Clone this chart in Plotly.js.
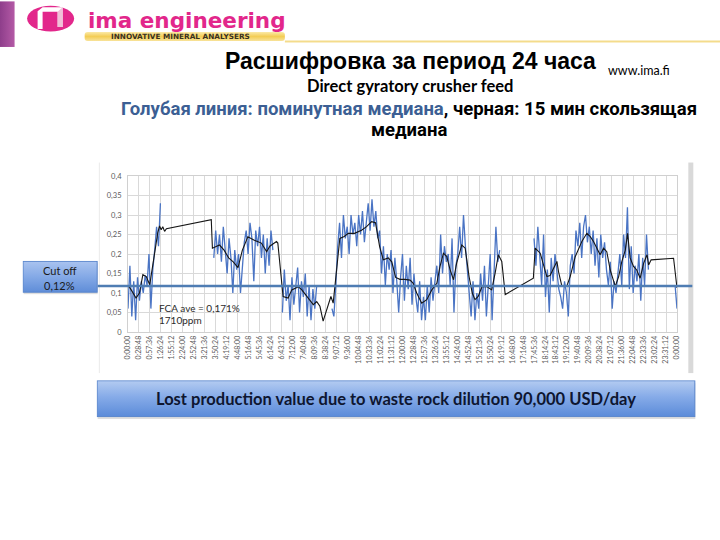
<!DOCTYPE html>
<html><head><meta charset="utf-8">
<script src="https://cdn.plot.ly/plotly-3.0.1.min.js"></script>
<style>html,body{margin:0;padding:0;background:#fff}#c{width:720px;height:540px}</style>
</head><body><div id="c"></div>
<script>
// ---- data ----
const timeLabels = ["0:00:00","0:28:48","0:57:36","1:26:24","1:55:12","2:24:00","2:52:48","3:21:36","3:50:24","4:19:12","4:48:00","5:16:48","5:45:36","6:14:24","6:43:12","7:12:00","7:40:48","8:09:36","8:38:24","9:07:12","9:36:00","10:04:48","10:33:36","11:02:24","11:31:12","12:00:00","12:28:48","12:57:36","13:26:24","13:55:12","14:24:00","14:52:48","15:21:36","15:50:24","16:19:12","16:48:00","17:16:48","17:45:36","18:14:24","18:43:12","19:12:00","19:40:48","20:09:36","20:38:24","21:07:12","21:36:00","22:04:48","22:33:36","23:02:24","23:31:12","0:00:00"];
const yTickVals = [0,0.05,0.1,0.15,0.2,0.25,0.3,0.35,0.4];
const yTickText = ["0","0,05","0,1","0,15","0,2","0,25","0,3","0,35","0,4"];
const cutOff = 0.118;
// minute median, one value every 5 minutes (hours 0..23, then 24:00)
const blueMedian = [
 0.06,0.17,0.04,0.13,0.03,0.14,0.08,0.13,0.10,0.145,0.12,0.20,
 0.06,0.16,0.21,0.27,0.22,0.33,null,null,null,null,null,null,
 null,null,null,null,null,null,null,null,null,null,null,null,
 null,null,null,null,null,null,null,null,null,0.19,0.26,0.20,
 0.25,0.18,0.27,0.21,0.15,0.24,0.19,0.10,0.21,0.16,0.20,0.10,
 0.18,0.23,0.26,0.20,0.28,0.24,0.13,0.26,0.22,0.27,0.19,0.25,
 0.15,0.24,0.17,0.26,0.21,null,null,null,null,0.05,0.16,0.08,
 0.12,0.03,0.14,0.07,0.11,0.165,0.05,0.13,0.09,0.15,0.04,0.12,
 0.03,0.11,0.06,0.12,null,null,null,null,null,null,null,0.06,
 0.04,0.12,0.22,0.28,0.19,0.30,0.24,0.27,0.20,0.30,0.25,0.28,
 0.22,0.30,0.25,0.31,0.23,0.28,0.33,0.26,0.34,0.27,0.31,0.24,
 0.26,0.15,0.22,0.12,0.20,0.16,0.21,0.10,0.19,0.13,0.05,0.14,
 0.20,0.08,0.17,0.11,0.19,0.07,0.15,0.09,0.05,0.13,0.03,0.09,
 0.03,0.12,0.05,0.14,0.08,0.13,0.17,0.10,0.25,0.15,0.22,0.18,
 0.20,0.12,0.24,0.05,0.17,0.20,0.27,0.19,0.30,0.22,0.17,0.10,
 0.04,0.13,0.03,0.10,0.06,0.15,0.08,0.17,0.04,0.13,0.20,0.03,
 0.15,0.27,0.18,0.21,null,null,null,null,null,null,null,null,
 null,null,null,null,null,null,null,null,null,0.24,0.17,0.27,
 0.20,0.12,0.25,0.09,0.16,0.05,0.19,0.13,0.20,0.16,0.11,0.09,
 0.06,0.13,0.10,0.04,0.17,0.20,0.15,0.26,0.22,0.28,0.19,0.27,
 0.30,0.23,0.27,0.20,0.26,0.17,0.24,0.14,0.25,0.19,0.23,0.16,
 0.12,0.18,0.06,0.13,0.10,0.15,0.20,0.12,0.25,0.19,0.32,0.11,
 0.22,0.10,0.17,0.13,0.20,0.08,0.19,0.12,0.25,0.16,null,null,
 null,null,null,null,null,null,null,null,null,null,null,0.12,
 0.06];
const blueStepMin = 5;
// 15 min moving median: time (hours) and value
const blackHours = [0,0.12,0.35,0.5,0.65,0.8,0.95,1.05,1.2,1.3,1.38,1.45,1.52,1.6,1.68,3.64,3.69,3.85,4.0,4.2,4.4,4.6,4.81,5.0,5.24,5.5,5.83,6.06,6.2,6.49,6.55,6.78,7.0,7.16,7.45,7.6,7.95,8.1,8.25,8.39,8.53,8.87,8.97,9.12,9.26,9.45,9.63,9.9,10.21,10.43,10.65,10.82,11.0,11.16,11.38,11.53,11.7,11.89,12.1,12.33,12.47,12.62,12.84,13.06,13.28,13.5,13.64,13.79,13.93,14.08,14.23,14.37,14.59,14.74,14.91,15.05,15.17,15.31,15.47,15.7,15.9,16.05,16.19,16.34,16.49,17.72,17.8,18.02,18.31,18.45,18.6,18.75,18.82,18.97,19.18,19.33,19.55,19.84,20.06,20.2,20.35,20.5,20.64,20.79,20.93,21.08,21.3,21.45,21.59,21.74,21.84,21.95,22.1,22.24,22.39,22.54,22.69,22.76,22.87,23.85,24.0];
const blackMedian = [0.12,0.11,0.087,0.1,0.147,0.142,0.121,0.16,0.21,0.254,0.272,0.262,0.27,0.258,0.265,0.288,0.215,0.22,0.223,0.21,0.19,0.18,0.165,0.21,0.244,0.236,0.228,0.206,0.22,0.232,0.228,0.091,0.087,0.108,0.116,0.108,0.083,0.07,0.078,0.066,0.028,0.091,0.074,0.168,0.24,0.245,0.253,0.253,0.261,0.27,0.283,0.28,0.219,0.185,0.19,0.18,0.14,0.135,0.135,0.133,0.125,0.1,0.074,0.083,0.108,0.125,0.168,0.202,0.194,0.16,0.134,0.177,0.223,0.215,0.142,0.1,0.083,0.091,0.116,0.116,0.108,0.151,0.198,0.181,0.096,0.138,0.215,0.202,0.142,0.145,0.164,0.181,0.155,0.117,0.117,0.142,0.193,0.232,0.253,0.245,0.232,0.215,0.198,0.215,0.206,0.159,0.117,0.142,0.181,0.21,0.253,0.19,0.168,0.159,0.138,0.176,0.198,0.172,0.185,0.189,0.113];

// ---- layout helpers (pixel -> paper) ----
const L=128.3, R=676.7, T=175.7, B=332.5;
const X = px => (px-L)/(R-L);
const Y = py => (B-py)/(B-T);
const W = w => w/(R-L);
const H = h => h/(B-T);

const blueX = blueMedian.map((v,i)=> i*blueStepMin/60);
const tickVals = timeLabels.map((s,i)=> i*24/(timeLabels.length-1));

function svgURI(s){return 'data:image/svg+xml;charset=utf-8,'+encodeURIComponent(s);}
const headerSVG = `<svg xmlns='http://www.w3.org/2000/svg' width='720' height='46' viewBox='0 0 720 46'>
<defs>
<linearGradient id='pb' x1='0' y1='0' x2='1' y2='0'><stop offset='0' stop-color='#8d3d8a'/><stop offset='1' stop-color='#b45aa6'/></linearGradient>
<linearGradient id='yb' x1='0' y1='0' x2='0' y2='1'><stop offset='0' stop-color='#fbe9a6'/><stop offset='0.5' stop-color='#f3cd55'/><stop offset='1' stop-color='#f8e39a'/></linearGradient>
</defs>
<rect x='0' y='0' width='15' height='46' fill='url(#pb)'/>
<ellipse cx='51' cy='17.5' rx='23.5' ry='13' fill='#e2278b'/>
<path d='M38 28 L38 10 L43 6 L63 6 L63 26 L58 26 L58 10.5 L43 10.5 L43 28 Z' fill='#ffffff'/>
<path d='M58 10.5 L63 6 L63 26 L58 26 Z' fill='#f0c0d8'/>
<rect x='85' y='31' width='200' height='9' rx='3' fill='url(#yb)'/>
<rect x='285' y='39.5' width='435' height='2' fill='#f4dc8c'/>
</svg>`;
const bottomSVG = `<svg xmlns='http://www.w3.org/2000/svg' width='600' height='40' viewBox='0 0 600 40'>
<defs><linearGradient id='g' x1='0' y1='0' x2='0' y2='1'><stop offset='0' stop-color='#b3cbf1'/><stop offset='0.45' stop-color='#86abe8'/><stop offset='1' stop-color='#5b8bd9'/></linearGradient></defs>
<rect x='1' y='3' width='597' height='36' fill='#c8c8c8' opacity='0.6'/>
<rect x='0.5' y='0.5' width='597' height='36' fill='url(#g)' stroke='#5a86cc'/>
</svg>`;
const cutSVG = `<svg xmlns='http://www.w3.org/2000/svg' width='76' height='34' viewBox='0 0 76 34'>
<defs><linearGradient id='g' x1='0' y1='0' x2='0' y2='1'><stop offset='0' stop-color='#a9c3ef'/><stop offset='0.5' stop-color='#84a9e6'/><stop offset='1' stop-color='#5f8dd8'/></linearGradient></defs>
<rect x='1' y='2.5' width='74' height='31' fill='#c8c8c8' opacity='0.6'/>
<rect x='0.5' y='0.5' width='74' height='31' fill='url(#g)' stroke='#5a86cc'/>
</svg>`;
const frameSVG = `<svg xmlns='http://www.w3.org/2000/svg' width='596' height='212' viewBox='0 0 596 212'>
<rect x='0' y='0' width='1' height='212' fill='#e4e4e4'/>
<rect x='589' y='0' width='5' height='212' fill='#d9d9d9'/>
</svg>`;

const traces = [
 {x: blueX, y: blueMedian, type:'scatter', mode:'lines', connectgaps:false,
  line:{color:'#4a74c4', width:1.3}, hoverinfo:'skip'},
 {x: blackHours, y: blackMedian, type:'scatter', mode:'lines',
  line:{color:'#151515', width:1.1}, hoverinfo:'skip'}
];

const ann = (px,py,text,size,family,color,opts={}) => Object.assign({
  xref:'paper', yref:'paper', x:X(px), y:Y(py), text:text, showarrow:false,
  font:{size:size, family:family, color:color}, xanchor:'center', yanchor:'middle'}, opts);

const layout = {
  width:720, height:540,
  margin:{l:L, r:720-R, t:T, b:540-B, pad:0},
  paper_bgcolor:'#ffffff', plot_bgcolor:'#ffffff',
  showlegend:false,
  separators:', ',
  xaxis:{range:[0,24], tickmode:'array', tickvals:tickVals, ticktext:timeLabels,
    tickangle:-90, tickfont:{size:7, family:'Lato, Liberation Sans, sans-serif', color:'#5a5a5a'},
    showgrid:true, gridcolor:'#d9d9d9', gridwidth:1, zeroline:false,
    showline:true, linecolor:'#d0d0d0', linewidth:1, mirror:true, ticks:'', fixedrange:true},
  yaxis:{range:[0,0.4], tickmode:'array', tickvals:yTickVals, ticktext:yTickText,
    tickfont:{size:7.5, family:'Lato, Liberation Sans, sans-serif', color:'#5a5a5a'},
    showgrid:true, gridcolor:'#d9d9d9', gridwidth:1, zeroline:false,
    showline:true, linecolor:'#d0d0d0', linewidth:1, mirror:true, ticks:'', ticklabelstandoff:4, fixedrange:true},
  shapes:[
    {type:'line', xref:'paper', yref:'y', x0:X(98), x1:X(692), y0:cutOff, y1:cutOff,
     line:{color:'#4f7db3', width:2.5}, layer:'above'}
  ],
  images:[
    {source:svgURI(headerSVG), xref:'paper', yref:'paper', x:X(0), y:Y(0), sizex:W(720), sizey:H(46), sizing:'stretch', xanchor:'left', yanchor:'top', layer:'below'},
    {source:svgURI(bottomSVG), xref:'paper', yref:'paper', x:X(97), y:Y(381), sizex:W(600), sizey:H(40), sizing:'stretch', xanchor:'left', yanchor:'top', layer:'below'},
    {source:svgURI(cutSVG), xref:'paper', yref:'paper', x:X(23), y:Y(261), sizex:W(76), sizey:H(34), sizing:'stretch', xanchor:'left', yanchor:'top', layer:'below'},
    {source:svgURI(frameSVG), xref:'paper', yref:'paper', x:X(99), y:Y(162), sizex:W(596), sizey:H(212), sizing:'stretch', xanchor:'left', yanchor:'top', layer:'below'}
  ],
  annotations:[
    ann(187,19,'<b>ima engineering</b>',21.5,'DejaVu Sans, sans-serif','#e2278b'),
    ann(181,35.5,'<b>INNOVATIVE MINERAL ANALYSERS</b>',7.3,'DejaVu Sans, sans-serif','#3a3222'),
    ann(410,60,'<b>Расшифровка за период 24 часа</b>',23,'Liberation Sans, Arial, sans-serif','#000000'),
    ann(639,70,'www.ima.fi',12.5,'Lato, Noto Sans, sans-serif','#000000'),
    ann(410,85,'<b>Direct gyratory crusher feed</b>',16.5,'Lato, Noto Sans, sans-serif','#000000'),
    ann(409,108,'<b><span style="color:#3c5f94">Голубая линия: поминутная медиана</span>, черная: 15 мин скользящая</b>',18.5,'Roboto, Noto Sans, sans-serif','#000000'),
    ann(409,129,'<b>медиана</b>',18.5,'Roboto, Noto Sans, sans-serif','#000000'),
    ann(60,271,'Cut off',11,'Lato, Noto Sans, sans-serif','#1a1a1a'),
    ann(60,286,'0,12%',11,'Lato, Noto Sans, sans-serif','#1a1a1a'),
    ann(396,400,'<b>Lost production value due to waste rock dilution 90,000 USD/day</b>',16.5,'Lato, Noto Sans, sans-serif','#0e1630'),
    ann(157,308,'FCA ave = 0,171%',10,'Lato, Noto Sans, sans-serif','#2a2a2a',{xanchor:'left'}),
    ann(157,320.5,'1710ppm',10,'Lato, Noto Sans, sans-serif','#2a2a2a',{xanchor:'left'})
  ]
};
Plotly.newPlot('c', traces, layout, {staticPlot:true, displayModeBar:false});
</script></body></html>
